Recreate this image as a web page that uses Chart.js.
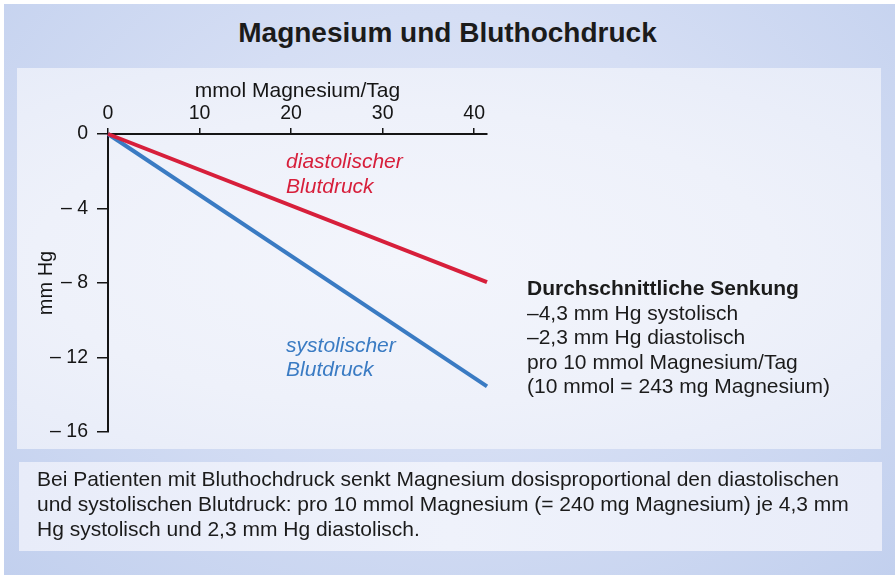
<!DOCTYPE html>
<html>
<head>
<meta charset="utf-8">
<script src="https://cdn.jsdelivr.net/npm/chart.js@4.4.1/dist/chart.umd.min.js"></script>
<style>
html, body { margin: 0; padding: 0; width: 895px; height: 575px; overflow: hidden; background: #fff;
  font-family: "Liberation Sans", Arial, sans-serif; color: #1b1b1b; }
#frame { position: absolute; left: 4px; top: 4px; width: 891px; height: 571px;
  background: radial-gradient(ellipse at 50% 40%, #e1e7f7 0%, #d5def4 45%, #c2d0ee 100%); }
#title { position: absolute; left: 0; top: 17px; width: 895px; text-align: center;
  font-weight: bold; font-size: 28px; line-height: 32px; }
#panel { position: absolute; left: 17px; top: 68px; width: 864px; height: 381px;
  background: radial-gradient(ellipse at 45% 50%, #f3f5fc 0%, #eef1fa 55%, #e6ebf8 100%); }
#note { position: absolute; left: 19px; top: 462px; width: 863px; height: 89px;
  background: linear-gradient(90deg, #e8ecf9, #eff2fb 50%, #e8ecf9); }
#noteText { position: absolute; left: 37px; top: 466px; font-size: 21px; line-height: 25px; white-space: nowrap; }
#side { position: absolute; left: 527px; top: 276px; font-size: 21px; line-height: 24.5px; white-space: nowrap; }
#side b { font-weight: bold; }
#chart { position: absolute; left: 0; top: 0; }
</style>
</head>
<body>
<div id="frame"></div>
<div id="title">Magnesium und Bluthochdruck</div>
<div id="panel"></div>
<div id="note"></div>
<canvas id="chart" width="895" height="575"></canvas>
<div id="side"><b>Durchschnittliche Senkung</b><br>–4,3 mm Hg systolisch<br>–2,3 mm Hg diastolisch<br>pro 10 mmol Magnesium/Tag<br>(10 mmol = 243 mg Magnesium)</div>
<div id="noteText">Bei Patienten mit Bluthochdruck senkt Magnesium dosisproportional den diastolischen<br>und systolischen Blutdruck: pro 10 mmol Magnesium (= 240 mg Magnesium) je 4,3 mm<br>Hg systolisch und 2,3 mm Hg diastolisch.</div>
<script>
// values
const doseMmol = [0, 41.4];
const diastolic = [0, -7.95];
const systolic = [0, -13.55];
const xTickValues = [0, 10, 20, 30, 40];
const yTickValues = [0, -4, -8, -12, -16];

const RED = '#d71f3b';
const BLUE = '#3a7bc3';
const INK = '#151515';

// italic labels next to the lines, anchored in data units
const lineLabels = [
  { lines: ['diastolischer', 'Blutdruck'], color: RED, x: 19.45, y: [-1.5, -2.85] },
  { lines: ['systolischer', 'Blutdruck'], color: BLUE, x: 19.45, y: [-11.38, -12.67] }
];

const labelPlugin = {
  id: 'lineLabels',
  afterDatasetsDraw(chart) {
    const ctx = chart.ctx;
    const xs = chart.scales.x, ys = chart.scales.y;
    ctx.save();
    ctx.font = 'italic 21px "Liberation Sans", Arial, sans-serif';
    ctx.textBaseline = 'middle';
    ctx.textAlign = 'left';
    lineLabels.forEach(l => {
      ctx.fillStyle = l.color;
      l.lines.forEach((t, i) => {
        ctx.fillText(t, xs.getPixelForValue(l.x), ys.getPixelForValue(l.y[i]));
      });
    });
    ctx.restore();
  }
};

function pts(ys) {
  return doseMmol.map((x, i) => ({ x: x, y: ys[i] }));
}

new Chart(document.getElementById('chart'), {
  type: 'line',
  data: {
    datasets: [
      { label: 'diastolisch', data: pts(diastolic), borderColor: RED, borderWidth: 4,
        pointRadius: 0, tension: 0, clip: false, borderCapStyle: 'butt' },
      { label: 'systolisch', data: pts(systolic), borderColor: BLUE, borderWidth: 4,
        pointRadius: 0, tension: 0, clip: false, borderCapStyle: 'butt' }
    ]
  },
  options: {
    responsive: false,
    animation: false,
    layout: { padding: { left: 30, top: 78, right: 408, bottom: 143 } },
    plugins: { legend: { display: false }, tooltip: { enabled: false } },
    scales: {
      x: {
        type: 'linear', position: 'top', min: 0, max: 41.4,
        afterBuildTicks: s => { s.ticks = xTickValues.map(v => ({ value: v })); },
        afterFit: s => { s.height = 56; },
        ticks: { color: INK, font: { size: 19.5, family: 'Liberation Sans' }, padding: 3, maxRotation: 0 },
        grid: { drawOnChartArea: false, drawTicks: true, tickLength: 6, color: INK, lineWidth: 1.5 },
        border: { color: INK, width: 2 },
        title: { display: true, text: 'mmol Magnesium/Tag', color: INK,
          font: { size: 21, family: 'Liberation Sans' }, padding: { top: 1, bottom: 0 } }
      },
      y: {
        type: 'linear', min: -16, max: 0,
        afterBuildTicks: s => { s.ticks = yTickValues.map(v => ({ value: v })); },
        afterFit: s => { s.width = 78; },
        ticks: { color: INK, font: { size: 19.5, family: 'Liberation Sans' }, padding: 9,
          callback: v => v === 0 ? '0' : '– ' + Math.abs(v) },
        grid: { drawOnChartArea: false, drawTicks: true, tickLength: 11, color: INK, lineWidth: 1.5 },
        border: { color: INK, width: 2 },
        title: { display: true, text: 'mm Hg', color: INK,
          font: { size: 20, family: 'Liberation Sans' }, padding: { top: 4, bottom: 0 } }
      }
    }
  },
  plugins: [labelPlugin]
});
</script>
</body>
</html>
